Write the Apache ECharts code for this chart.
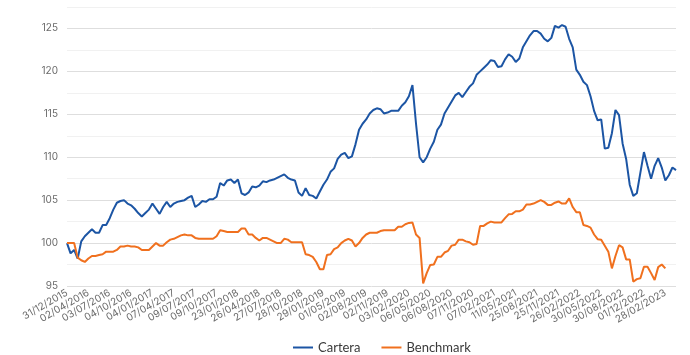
<!DOCTYPE html>
<html>
<head>
<meta charset="utf-8">
<script src="https://cdn.jsdelivr.net/npm/echarts@6/dist/echarts.min.js"></script>
<style>html,body{margin:0;padding:0;background:#fff;}#c{width:690px;height:355px;}</style>
</head>
<body>
<div id="c"></div>
<script>
// Axis tick labels (one every POINTS_PER_TICK samples)
const tickLabels = ["31/12/2015","02/04/2016","03/07/2016","04/10/2016","04/01/2017","07/04/2017","09/07/2017","09/10/2017","23/01/2018","26/04/2018","27/07/2018","28/10/2018","29/01/2019","01/05/2019","02/08/2019","02/11/2019","03/02/2020","06/05/2020","06/08/2020","07/11/2020","07/02/2021","11/05/2021","25/08/2021","25/11/2021","26/02/2022","30/05/2022","30/08/2022","01/12/2022","28/02/2023"];
const POINTS_PER_TICK = 6;

const cartera = [
100.0,98.8,99.2,98.2,100.2,100.8,101.2,101.6,101.2,101.2,
102.1,102.1,102.9,103.9,104.7,104.9,105.0,104.6,104.4,104.0,
103.5,103.1,103.5,103.9,104.6,104.0,103.4,104.2,104.8,104.2,
104.6,104.8,104.9,105.0,105.3,105.5,104.2,104.5,104.9,104.8,
105.1,105.1,105.4,107.0,106.7,107.3,107.4,107.0,107.4,105.8,
105.6,105.9,106.6,106.5,106.7,107.2,107.1,107.3,107.4,107.6,
107.8,108.0,107.6,107.4,107.3,105.9,105.5,106.4,105.6,105.5,
105.2,106.0,106.8,107.4,108.3,108.7,109.8,110.3,110.5,109.9,
110.1,111.5,113.2,113.9,114.4,115.1,115.5,115.7,115.6,115.1,
115.2,115.4,115.4,115.4,116.0,116.4,117.1,118.4,113.9,110.0,
109.4,110.0,111.0,111.8,113.2,113.8,115.1,115.8,116.5,117.2,
117.5,117.0,117.6,118.2,118.6,119.6,120.0,120.4,120.8,121.3,
121.2,120.5,120.6,121.4,122.0,121.7,121.1,121.5,122.8,123.5,
124.2,124.7,124.7,124.4,123.8,123.5,123.9,125.3,125.1,125.4,
125.2,123.8,122.8,120.2,119.6,118.8,118.4,117.1,115.4,114.3,
114.4,111.0,111.1,112.8,115.5,114.9,111.6,109.8,106.8,105.5,
105.8,108.2,110.6,109.0,107.5,109.0,109.9,108.8,107.3,107.9,
108.8,108.5
];

const benchmark = [
100.0,100.0,100.0,98.3,98.0,97.8,98.2,98.5,98.5,98.6,
98.7,99.0,99.0,99.0,99.2,99.6,99.6,99.7,99.6,99.6,
99.5,99.2,99.2,99.2,99.6,100.0,99.7,99.7,100.1,100.4,
100.5,100.7,100.9,101.0,100.9,100.9,100.6,100.5,100.5,100.5,
100.5,100.5,100.8,101.5,101.4,101.3,101.3,101.3,101.3,101.7,
101.7,101.0,101.0,100.6,100.3,100.6,100.6,100.4,100.2,100.0,
100.0,100.5,100.4,100.1,100.1,100.1,100.1,98.7,98.6,98.4,
97.8,96.95,96.95,98.6,98.7,99.3,99.5,100.0,100.3,100.5,
100.3,99.6,100.0,100.6,101.0,101.2,101.2,101.2,101.4,101.5,
101.5,101.5,101.5,101.9,101.9,102.2,102.35,102.4,101.0,100.6,
95.3,96.5,97.45,97.5,98.4,98.4,98.9,99.1,99.7,99.8,
100.4,100.4,100.2,100.1,99.8,99.9,102.0,102.0,102.3,102.5,
102.4,102.4,102.4,102.9,103.35,103.4,103.7,103.7,103.9,104.5,
104.5,104.6,104.8,105.0,104.8,104.45,104.45,104.7,104.85,104.6,
104.6,105.2,104.2,103.6,103.6,102.1,102.0,101.8,101.0,100.45,
100.4,99.7,99.0,97.05,98.5,99.75,99.5,98.1,98.1,95.5,
95.8,95.9,97.25,97.25,96.5,95.7,97.2,97.5,97.05,null,
null,null
];

const yMin = 95, yMax = 127.5, yStep = 2.5;

const categories = cartera.map((_, i) => (i % POINTS_PER_TICK === 0 && tickLabels[i / POINTS_PER_TICK] !== undefined) ? tickLabels[i / POINTS_PER_TICK] : '');

const FONT = 'Inter, "Noto Sans", sans-serif';
const chart = echarts.init(document.getElementById('c'), null, {renderer: 'canvas'});
chart.setOption({
  animation: false,
  backgroundColor: '#ffffff',
  grid: {left: 67, right: 14, top: 7, bottom: 69, containLabel: false},
  legend: {
    left: 288, top: 336,
    icon: 'rect', itemWidth: 20, itemHeight: 2, itemGap: 21,
    textStyle: {fontFamily: 'Lato, "Noto Sans", sans-serif', fontSize: 13, color: '#3a3a3a'},
    data: ['Cartera', 'Benchmark']
  },
  xAxis: {
    type: 'category', boundaryGap: false, data: categories,
    axisLine: {show: false}, axisTick: {show: false}, splitLine: {show: false},
    axisLabel: {interval: 0, rotate: 30, fontFamily: FONT, fontSize: 10, color: '#6b6b6b', margin: 6}
  },
  yAxis: {
    type: 'value', min: yMin, max: yMax, interval: yStep,
    axisLine: {show: false}, axisTick: {show: false},
    axisLabel: {fontFamily: FONT, fontSize: 10, color: '#6b6b6b', margin: 9,
      formatter: v => (Math.abs(v % 5) < 1e-6 ? String(v) : '')},
    splitLine: {show: true, lineStyle: {color: ['#dedede', '#f1f1f1'], width: 1}}
  },
  series: [
    {name: 'Cartera', type: 'line', data: cartera, showSymbol: false, symbol: 'none',
     lineStyle: {color: '#1c55a4', width: 2}, itemStyle: {color: '#1c55a4'}},
    {name: 'Benchmark', type: 'line', data: benchmark, showSymbol: false, symbol: 'none',
     lineStyle: {color: '#f0701e', width: 2}, itemStyle: {color: '#f0701e'}}
  ]
});
</script>
</body>
</html>
